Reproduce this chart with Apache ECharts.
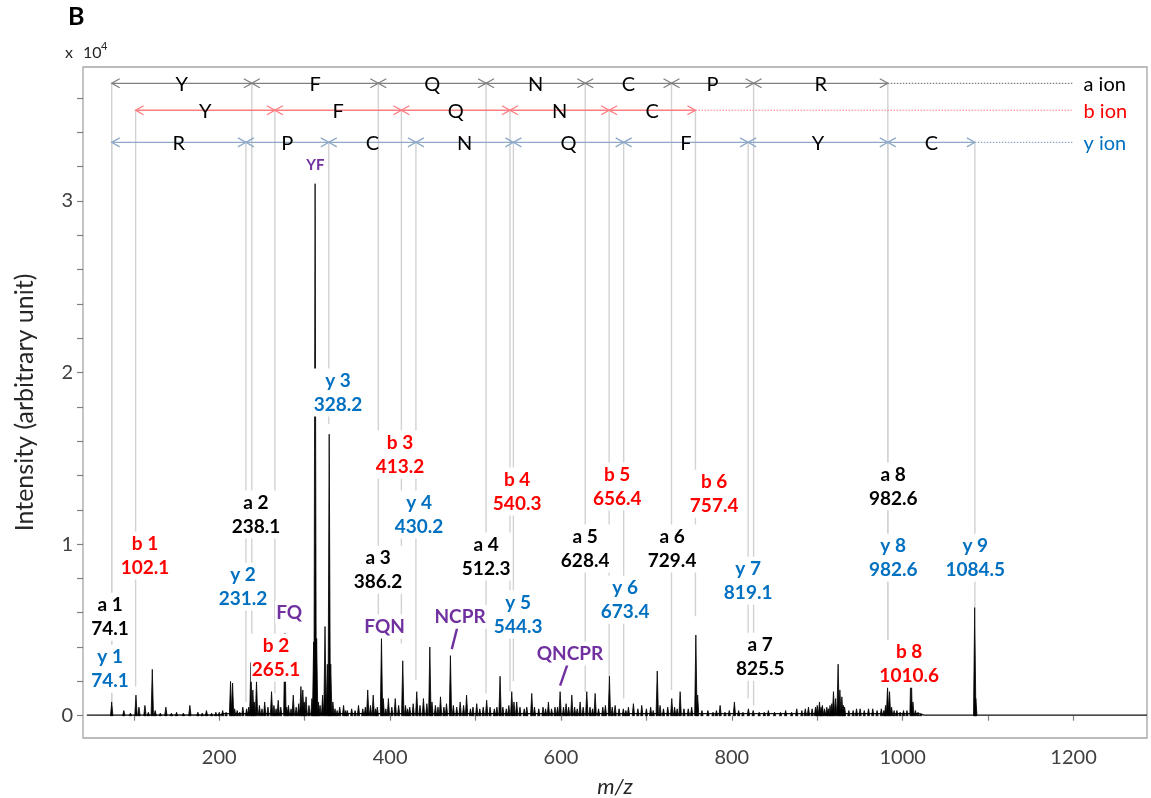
<!DOCTYPE html>
<html><head><meta charset="utf-8">
<script src="https://cdn.jsdelivr.net/npm/echarts@6/dist/echarts.min.js"></script>
<style>html,body{margin:0;padding:0;background:#fff}#c{width:1151px;height:798px}</style>
</head><body><div id="c"></div>
<script>
// ---------------- data ----------------
const xTickValues = [100,200,300,400,500,600,700,800,900,1000,1100,1200];
const xLabelValues = [200,400,600,800,1000,1200];
const yTickValues = [0,0.2,0.4,0.6,0.8,1,1.2,1.4,1.6,1.8,2,2.2,2.4,2.6,2.8,3,3.2,3.4,3.6];
const yLabelValues = [0,1,2,3];

// spectrum peaks [m/z, intensity x 10^4]
const spectrumPeaks = [
[74.1,0.08],[88.3,0.03],[96,0.015],[102.5,0.12],[106,0.05],[113,0.06],[117,0.02],[121.6,0.27],[125,0.03],[131,0.015],[137.5,0.05],[144,0.015],[150,0.02],[158,0.015],[165.6,0.06],[175,0.02],[180,0.015],[185,0.03],[191,0.015],[196,0.02],
[200,0.02],[204,0.03],[208,0.02],[213.2,0.20],[215.6,0.19],[218,0.04],[221,0.03],[224,0.02],[227.6,0.05],[232,0.04],[234.5,0.05],[237,0.31],[239.3,0.15],[241,0.08],[243.6,0.20],[247,0.06],[250,0.04],[253.2,0.08],[257,0.05],[261.2,0.14],[264,0.06],[266.5,0.04],[269,0.09],[272,0.05],[276.8,0.48],[279,0.05],[281,0.06],[284,0.04],[286.6,0.12],[290,0.05],[293,0.07],[295.6,0.17],[297.8,0.15],[299.5,0.08],[301.6,0.11],[305,0.06],[308.5,0.10],[310.5,0.43],[312.2,3.10],[314,0.45],[316,0.08],[318,0.06],[321,0.12],[323.8,0.52],[326.5,0.30],[328.7,1.64],[330.5,0.30],[333,0.08],[335.5,0.04],[338,0.03],[341,0.05],[345.5,0.06],[348,0.03],[350,0.03],[355,0.04],[359,0.03],[363,0.06],[368,0.04],[371,0.05],[373.8,0.15],[377,0.06],[380.2,0.12],[383,0.04],[385,0.05],[389.9,0.46],[392,0.10],[395,0.04],[398,0.10],[402,0.05],[406,0.10],[410,0.06],[414.8,0.32],[418,0.06],[420.5,0.04],[423,0.05],[427,0.07],[431.2,0.14],[435,0.06],[439,0.10],[443,0.07],[446.5,0.40],[449,0.08],[453,0.06],[456,0.05],[459,0.11],[463,0.05],[466,0.07],[470.6,0.35],[474,0.06],[478,0.05],[482,0.08],[486,0.06],[489.5,0.12],[494,0.04],[497,0.05],[501.4,0.07],[505,0.04],[509,0.05],[513,0.09],[517,0.05],[522,0.04],[525,0.05],[528.7,0.23],[532,0.05],[536,0.04],[539,0.06],[542.4,0.14],[545,0.08],[548.2,0.08],[552,0.05],[557,0.04],[560,0.05],[565.8,0.13],[569,0.05],[574,0.04],[579,0.05],[582,0.04],[585.3,0.08],[589,0.04],[593,0.05],[596,0.05],[599,0.14],[603,0.05],[606,0.07],[609,0.05],[612.7,0.12],[616,0.05],[619,0.04],[622.4,0.08],[626,0.05],[630.2,0.14],[634,0.05],[637,0.04],[640,0.13],[644,0.04],[649,0.05],[652,0.06],[656.7,0.23],[660,0.05],[663.4,0.06],[668,0.04],[673,0.04],[676,0.03],[679,0.05],[684.8,0.07],[690,0.04],[694.6,0.06],[700,0.04],[705,0.05],[708,0.03],[712.7,0.26],[716,0.06],[720,0.04],[725,0.05],[729.7,0.10],[733,0.05],[736,0.04],[739.5,0.14],[744,0.04],[749,0.04],[753,0.05],[757.9,0.47],[760,0.12],[765,0.03],[772,0.03],[778,0.02],[782,0.03],[786.3,0.06],[792,0.02],[797,0.03],[803,0.08],[808,0.03],[813,0.02],[819.4,0.04],[825,0.03],[832,0.02],[838,0.02],[842.8,0.03],[850,0.02],[857,0.02],[863,0.03],[870,0.02],[876,0.04],[882,0.03],[886,0.04],[889.7,0.05],[894,0.04],[898,0.05],[900,0.06],[902.6,0.08],[904.5,0.05],[906,0.06],[908.5,0.04],[911.2,0.05],[913,0.04],[915,0.06],[917,0.07],[919,0.14],[921.5,0.10],[924.4,0.30],[926.5,0.15],[928.8,0.11],[930.5,0.06],[932,0.05],[937,0.03],[942,0.03],[946,0.04],[950.2,0.04],[955,0.03],[960,0.04],[965,0.04],[970,0.03],[975,0.04],[978,0.03],[980,0.06],[982.3,0.17],[984.6,0.14],[987,0.05],[990,0.03],[993.2,0.03],[997,0.02],[1001,0.03],[1005,0.03],[1009.8,0.33],[1012,0.08],[1015,0.03],[1018,0.02],[1021,0.01],[1084.3,0.63],[1085.6,0.10]
];
// baseline of the trace
const baselinePoints = [[45,0.003],[200,0.004],[205,0.012],[1020,0.012],[1025,0.003],[1286,0.003]];

// fragment ions
const aIonNames = ['a 1','a 2','a 3','a 4','a 5','a 6','a 7','a 8'];
const aIonMz = [74.1,238.1,386.2,512.3,628.4,729.4,825.5,982.6];
const aStemEnd = [0.08,0.31,0.47,0.13,0.14,0.15,0.06,0.2];
const aResidues = ['Y','F','Q','N','C','P','R'];

const bIonNames = ['b 1','b 2','b 3','b 4','b 5','b 6','b 8'];
const bIonMz = [102.1,265.1,413.2,540.3,656.4,757.4,1010.6];
const bStemEnd = [0.17,0.13,0.42,0.14,0.23,0.58];
const bResidues = ['Y','F','Q','N','C'];

const yIonNames = ['y 1','y 2','y 3','y 4','y 5','y 6','y 7','y 8','y 9'];
const yIonMz = [74.1,231.2,328.2,430.2,544.3,673.4,819.1,982.6,1084.5];
const yStemEnd = [0.08,0.08,1.7,0.21,0.2,0.1,0.1,0.2,0.63];
const yResidues = ['R','P','C','N','Q','F','Y','C'];

const internalNames = ['YF','FQ','FQN','NCPR','QNCPR'];

// ---------------- layout (positions in axis units) ----------------
const ROW_LEVEL = {a:3.685, b:3.528, y:3.341};
const TAIL_END = 1200;
const aLabelPos = [[72.2,0.577],[243.0,1.172],[385.9,0.851],[512.4,0.927],[628.3,0.974],[730.1,0.974],[833.2,0.344],[988.9,1.335]];
const bLabelPos = [[113.1,0.933],[266.5,0.338],[411.6,1.522],[548.7,1.306],[665.8,1.335],[779.3,1.294],[1007.6,0.303]];
const yLabelPos = [[72.2,0.274],[227.8,0.752],[339.0,1.883],[433.9,1.172],[549.9,0.589],[675.1,0.676],[819.1,0.787],[988.9,0.921],[1084.9,0.921]];
const internalPos = [[312.5,3.207],[281.8,0.601],[393.5,0.519],[481.9,0.577],[610.6,0.362]];
const internalSize = [15,19,19,19,19];
const slashSegs = [[478.7,0.515,472.2,0.388],[607.5,0.297,599.0,0.175]];

// ---------------- styles ----------------
const FONT = 'Lato, "Open Sans", sans-serif';
const C_A = '#000000', C_B = '#ff0000', C_Y = '#0070c0', C_P = '#7030a0';
const ROW_COLOR = {a:'#808080', b:'#ff7c80', y:'#8ea9c8'};

// ---------------- series builders ----------------
function ladderSeries(key, mzList, residues) {
  const level = ROW_LEVEL[key], color = ROW_COLOR[key];
  const segs = residues.map((r,i)=>[mzList[i], mzList[i+1], i]);
  return {
    type:'custom', silent:true, z:6, clip:false, data:segs,
    renderItem(params, api){
      const p1 = api.coord([api.value(0), level]);
      const p2 = api.coord([api.value(1), level]);
      const y = p1[1], ch = 8, cw = 4.5;
      return {type:'group', children:[
        {type:'line', shape:{x1:p1[0],y1:y,x2:p2[0],y2:y}, style:{stroke:color,lineWidth:1.3}},
        {type:'polyline', shape:{points:[[p1[0]+ch,y-cw],[p1[0],y],[p1[0]+ch,y+cw]]}, style:{stroke:color,lineWidth:1.3,fill:null}},
        {type:'polyline', shape:{points:[[p2[0]-ch,y-cw],[p2[0],y],[p2[0]-ch,y+cw]]}, style:{stroke:color,lineWidth:1.3,fill:null}},
        {type:'text', style:{text:residues[api.value(2)], x:(p1[0]+p2[0])/2, y:y+1, fill:'#000', font:'20px '+FONT, align:'center', verticalAlign:'middle'}}
      ]};
    }
  };
}
const tails = [
  ['a', aIonMz[aIonMz.length-1], 'a ion', C_A],
  ['b', bIonMz[5], 'b ion', C_B],
  ['y', yIonMz[yIonMz.length-1], 'y ion', C_Y]
];

const stemData = [];
aIonMz.forEach((m,i)=>stemData.push([m, ROW_LEVEL.a, aStemEnd[i]]));
bStemEnd.forEach((e,i)=>stemData.push([bIonMz[i], ROW_LEVEL.b, e]));
yIonMz.forEach((m,i)=>stemData.push([m, ROW_LEVEL.y, yStemEnd[i]]));

const labels = [];
aIonNames.forEach((n,i)=>labels.push({pos:aLabelPos[i], text:n+'\n'+aIonMz[i].toFixed(1), color:C_A, size:19}));
bIonNames.forEach((n,i)=>labels.push({pos:bLabelPos[i], text:n+'\n'+bIonMz[i].toFixed(1), color:C_B, size:19}));
yIonNames.forEach((n,i)=>labels.push({pos:yLabelPos[i], text:n+'\n'+yIonMz[i].toFixed(1), color:C_Y, size:19}));
internalNames.forEach((n,i)=>labels.push({pos:internalPos[i], text:n, color:C_P, size:internalSize[i]}));

const chart = echarts.init(document.getElementById('c'), null, {renderer:'canvas'});
chart.setOption({
  animation:false,
  backgroundColor:'#fff',
  textStyle:{fontFamily:FONT},
  grid:{left:83, right:4, top:67, bottom:60, show:true, borderColor:'#a6a6a6', borderWidth:1.3, backgroundColor:'transparent',
        containLabel:false, outerBoundsMode:'none'},
  xAxis:{
    type:'value', min:40.5, max:1286,
    name:'m/z', nameLocation:'middle', nameGap:38,
    nameTextStyle:{fontSize:22, fontStyle:'italic', color:'#262626', fontFamily:FONT},
    axisLine:{show:false},
    axisTick:{show:true, inside:false, length:5, customValues:xTickValues, lineStyle:{color:'#7f7f7f', width:1.2}},
    axisLabel:{customValues:xLabelValues, fontSize:20, color:'#404040', margin:10, fontFamily:FONT, formatter:v=>String(Math.round(v))},
    splitLine:{show:false}
  },
  yAxis:{
    type:'value', min:-0.13, max:3.78,
    name:'Intensity (arbitrary unit)', nameLocation:'middle', nameGap:46, nameRotate:90,
    nameTextStyle:{fontSize:25, color:'#262626', fontFamily:FONT},
    axisLine:{show:false},
    axisTick:{show:true, inside:false, length:6, customValues:yTickValues, lineStyle:{color:'#7f7f7f', width:1.2}},
    axisLabel:{customValues:yLabelValues, fontSize:20, color:'#404040', margin:10, fontFamily:FONT, formatter:v=>String(Math.round(v))},
    splitLine:{show:false}
  },
  graphic:[
    {type:'text', left:68, top:4, style:{text:'B', font:'bold 25px '+FONT, fill:'#000'}},
    {type:'text', left:65, top:45, style:{text:'x', font:'16px '+FONT, fill:'#262626'}},
    {type:'text', left:83, top:45, style:{text:'10', font:'16px '+FONT, fill:'#262626'}},
    {type:'text', left:101, top:41, style:{text:'4', font:'11px '+FONT, fill:'#262626'}}
  ],
  series:[
    // stems
    {type:'custom', silent:true, z:1, clip:true, data:stemData,
      renderItem(params, api){
        const p1 = api.coord([api.value(0), api.value(1)]);
        const p2 = api.coord([api.value(0), api.value(2)]);
        return {type:'line', shape:{x1:p1[0],y1:p1[1],x2:p2[0],y2:p2[1]}, style:{stroke:'#d2d2d2', lineWidth:1.4}};
      }},
    // baseline of trace
    {type:'line', silent:true, z:2, data:baselinePoints, showSymbol:false, symbol:'none',
      lineStyle:{color:'#111', width:1.3}},
    // spectrum peaks
    {type:'custom', silent:true, z:3, clip:true, data:spectrumPeaks,
      renderItem(params, api){
        const top = api.coord([api.value(0), api.value(1)]);
        const base = api.coord([api.value(0), 0]);
        return {type:'polygon', shape:{points:[[top[0]-1.2, base[1]],[top[0], top[1]],[top[0]+1.2, base[1]]]},
          style:{fill:'#000', stroke:'#000', lineWidth:0.8}};
      }},
    // ion labels
    {type:'custom', silent:true, z:8, clip:false, data:labels.map((l,i)=>[l.pos[0], l.pos[1], i]),
      renderItem(params, api){
        const L = labels[api.value(2)];
        const p = api.coord([api.value(0), api.value(1)]);
        return {type:'text', z2:10, style:{text:L.text, x:p[0], y:p[1], fill:L.color, font:'bold '+L.size+'px '+FONT,
          align:'center', verticalAlign:'middle', lineHeight:24, backgroundColor:'#fff', padding:[0,1]}};
      }},
    // slashes
    {type:'custom', silent:true, z:8, clip:false, data:slashSegs,
      renderItem(params, api){
        const p1 = api.coord([api.value(0), api.value(1)]);
        const p2 = api.coord([api.value(2), api.value(3)]);
        return {type:'line', shape:{x1:p1[0],y1:p1[1],x2:p2[0],y2:p2[1]}, style:{stroke:C_P, lineWidth:2.4}};
      }},
    ladderSeries('a', aIonMz, aResidues),
    ladderSeries('b', bIonMz, bResidues),
    ladderSeries('y', yIonMz, yResidues),
    // dotted tails + row labels
    {type:'custom', silent:true, z:6, clip:false, data:tails.map((t,i)=>[t[1], TAIL_END, i]),
      renderItem(params, api){
        const t = tails[api.value(2)];
        const level = ROW_LEVEL[t[0]];
        const p1 = api.coord([api.value(0), level]);
        const p2 = api.coord([api.value(1), level]);
        return {type:'group', children:[
          {type:'line', shape:{x1:p1[0],y1:p1[1],x2:p2[0],y2:p2[1]}, style:{stroke:ROW_COLOR[t[0]], lineWidth:1.2, lineDash:[1.5,1.5]}},
          {type:'text', style:{text:t[2], x:p2[0]+10, y:p2[1]+1, fill:t[3], font:'20px '+FONT, align:'left', verticalAlign:'middle'}}
        ]};
      }}
  ]
});
</script></body></html>
